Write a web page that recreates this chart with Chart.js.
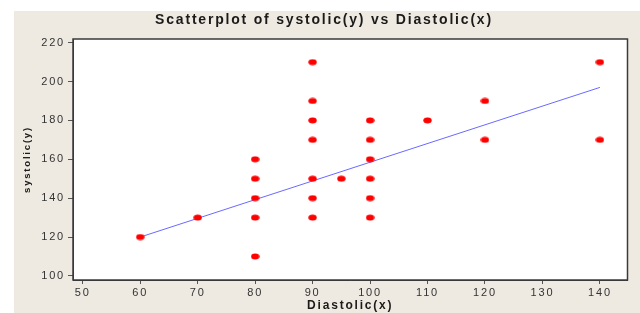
<!DOCTYPE html>
<html>
<head>
<meta charset="utf-8">
<script src="https://cdn.jsdelivr.net/npm/chart.js@4/dist/chart.umd.min.js"></script>
<style>
  html, body { margin: 0; padding: 0; background: #ffffff; }
  #wrap { width: 640px; height: 313px; position: relative; }
</style>
</head>
<body>
<div id="wrap"><canvas id="c" width="640" height="313"></canvas></div>
<script>
// ---- data ----
const chartTitle = 'Scatterplot of systolic(y) vs Diastolic(x)';
const xAxisTitle = 'Diastolic(x)';
const yAxisTitle = 'systolic(y)';
const xTicks = [50, 60, 70, 80, 90, 100, 110, 120, 130, 140];
const yTicks = [100, 120, 140, 160, 180, 200, 220];
const diastolic = [60, 70, 80, 80, 80, 80, 80, 90, 90, 90, 90, 90, 90, 90, 95, 100, 100, 100, 100, 100, 100, 110, 120, 120, 140, 140];
const systolic  = [120, 130, 160, 150, 140, 130, 110, 210, 190, 180, 170, 150, 140, 130, 150, 180, 170, 160, 150, 140, 130, 180, 190, 170, 210, 170];
const fitX = [60, 140];
const fitY = [120, 197];

// ---- styling ----
const dot = document.createElement('canvas');
dot.width = 9; dot.height = 7;
(function () {
  const c = dot.getContext('2d');
  c.fillStyle = '#ff0000';
  c.beginPath();
  c.ellipse(4.5, 3.5, 4.2, 3.0, 0, 0, Math.PI * 2);
  c.fill();
})();

const frame = {
  id: 'frame',
  beforeDraw(chart) {
    const ctx = chart.ctx;
    ctx.save();
    ctx.fillStyle = '#ffffff';
    ctx.fillRect(0, 0, chart.width, chart.height);
    ctx.fillStyle = '#eeeae1';
    ctx.fillRect(14, 11, chart.width - 14, chart.height - 11);
    const a = chart.chartArea;
    ctx.fillStyle = '#ffffff';
    ctx.fillRect(a.left, a.top, a.right - a.left, a.bottom - a.top);
    ctx.restore();
    ctx.letterSpacing = '1.8px';
  },
  afterDraw(chart) {
    const ctx = chart.ctx;
    const a = chart.chartArea;
    ctx.save();
    ctx.strokeStyle = '#3a3a3a';
    ctx.lineWidth = 1.5;
    ctx.strokeRect(a.left, a.top, a.right - a.left, a.bottom - a.top);
    ctx.restore();
    ctx.letterSpacing = '0px';
  }
};

const tickFont = { family: "'Liberation Sans', Arial, sans-serif", size: 11 };

new Chart(document.getElementById('c'), {
  type: 'scatter',
  plugins: [frame],
  data: {
    datasets: [
      {
        label: 'systolic',
        data: diastolic.map((x, i) => ({ x: x, y: systolic[i] })),
        pointStyle: dot,
        pointRadius: 4,
        pointHoverRadius: 4,
        order: 0
      },
      {
        type: 'line',
        label: 'fit',
        data: fitX.map((x, i) => ({ x: x, y: fitY[i] })),
        borderColor: '#6a6aff',
        borderWidth: 1,
        pointRadius: 0,
        fill: false,
        tension: 0,
        order: 1
      }
    ]
  },
  options: {
    responsive: false,
    animation: false,
    devicePixelRatio: 1,
    layout: { padding: { top: 0, right: 12.5, left: 20.5, bottom: 0 } },
    plugins: {
      legend: { display: false },
      tooltip: { enabled: false },
      title: {
        display: true,
        text: chartTitle,
        color: '#1a1a1a',
        font: { family: "'Liberation Sans', Arial, sans-serif", size: 14, weight: 'bold', lineHeight: 1.2 },
        padding: { top: 11.6, bottom: 10.6 }
      }
    },
    scales: {
      x: {
        type: 'linear',
        min: 48.3,
        max: 144.8,
        afterBuildTicks: (s) => { s.ticks = xTicks.map(v => ({ value: v })); },
        afterFit: (s) => { s.height = 33; },
        grid: { drawOnChartArea: false, drawTicks: true, tickLength: 4, color: '#555555' },
        border: { display: true, color: '#3a3a3a', width: 1 },
        ticks: { color: '#333333', font: tickFont, padding: 2, maxRotation: 0, autoSkip: false },
        title: {
          display: true,
          text: xAxisTitle,
          color: '#1a1a1a',
          font: { family: "'Liberation Sans', Arial, sans-serif", size: 12, weight: 'bold', lineHeight: 1.2 },
          padding: { top: 0, bottom: 0 }
        }
      },
      y: {
        type: 'linear',
        min: 97.9,
        max: 221.9,
        afterBuildTicks: (s) => { s.ticks = yTicks.map(v => ({ value: v })); },
        afterFit: (s) => { s.width = 52.5; },
        grid: { drawOnChartArea: false, drawTicks: true, tickLength: 5, color: '#555555' },
        border: { display: true, color: '#3a3a3a', width: 1 },
        ticks: { color: '#333333', font: tickFont, padding: 3, autoSkip: false },
        title: {
          display: true,
          text: yAxisTitle,
          color: '#1a1a1a',
          font: { family: "'Liberation Sans', Arial, sans-serif", size: 9.5, weight: 'bold', lineHeight: 1.2 },
          padding: { top: 0.8, bottom: 0 }
        }
      }
    }
  }
});
</script>
</body>
</html>
